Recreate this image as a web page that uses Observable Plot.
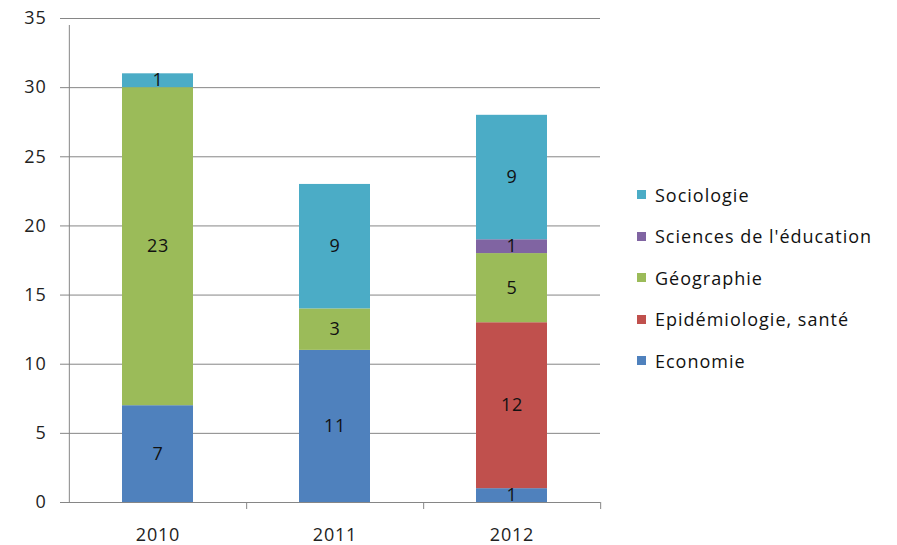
<!DOCTYPE html>
<html><head><meta charset="utf-8">
<script src="https://cdn.jsdelivr.net/npm/d3@7"></script>
<script src="https://cdn.jsdelivr.net/npm/@observablehq/plot@0.6"></script>
<style>
html,body{margin:0;padding:0;background:#fff;}
#wrap{position:relative;width:897px;height:545px;font-family:"Open Sans",sans-serif;}
#legend{position:absolute;left:637px;top:174px;font-size:18px;letter-spacing:1px;color:#111;}
.row{display:flex;align-items:center;height:41.5px;}
.sw{width:9px;height:9px;margin-right:9px;}
svg text{letter-spacing:0.8px;}
</style></head>
<body><div id="wrap"><div id="chart"></div><div id="legend"></div></div>
<script>
const years = ["2010", "2011", "2012"];
const disciplines = ["Economie", "Epidémiologie, santé", "Géographie", "Sciences de l'éducation", "Sociologie"];
const colors = ["#4F81BD", "#C0504D", "#9BBB59", "#8064A2", "#4BACC6"];
const economie = [7, 11, 1];
const epidemiologie = [0, 0, 12];
const geographie = [23, 3, 5];
const sciencesEducation = [0, 0, 1];
const sociologie = [1, 9, 9];
const yTicks = [0, 5, 10, 15, 20, 25, 30, 35];

const series = [economie, epidemiologie, geographie, sciencesEducation, sociologie];
const data = [];
years.forEach((y, i) => series.forEach((s, j) => {
  if (s[i] > 0) data.push({year: y, discipline: disciplines[j], value: s[i]});
}));

const W = 897, H = 545, mL = 68, mR = 297, mT = 18, mB = 43;
const step = (W - mL - mR) / years.length;
const gray = "#868686";

const chart = Plot.plot({
  width: W, height: H,
  marginLeft: mL, marginRight: mR, marginTop: mT, marginBottom: mB,
  style: {fontFamily: "'Open Sans', sans-serif", fontSize: "18px", color: "#111", background: "#fff", overflow: "visible"},
  x: {domain: years, paddingInner: 0.6, paddingOuter: 0.3, label: null},
  y: {domain: [0, 35], label: null},
  color: {domain: disciplines, range: colors},
  marks: [
    Plot.ruleY(yTicks, {y: d => d, stroke: gray, strokeWidth: 1, insetLeft: -8}),
    Plot.ruleX([years[0]], {x: d => d, dx: -step / 2, y1: 0, y2: 35, stroke: gray, insetBottom: -7}),
    Plot.ruleX(years, {x: d => d, dx: step / 2, y1: 0, y2: 0, stroke: gray, insetBottom: -7}),
    Plot.barY(data, Plot.stackY({x: "year", y: "value", fill: "discipline", order: disciplines})),
    Plot.text(data, Plot.stackY({x: "year", y: "value", z: "discipline", order: disciplines, text: d => String(d.value), fill: "#111", fontSize: 18})),
    Plot.axisY({ticks: yTicks, tickSize: 0, tickPadding: 22, fill: "#222", fontSize: 18}),
    Plot.axisX({tickSize: 0, tickPadding: 26, fill: "#222", fontSize: 18})
  ]
});
document.getElementById("chart").appendChild(chart);

const legend = document.getElementById("legend");
disciplines.slice().reverse().forEach((d) => {
  const row = document.createElement("div");
  row.className = "row";
  const sw = document.createElement("div");
  sw.className = "sw";
  sw.style.background = colors[disciplines.indexOf(d)];
  const t = document.createElement("span");
  t.textContent = d;
  row.appendChild(sw); row.appendChild(t);
  legend.appendChild(row);
});
</script></body></html>
